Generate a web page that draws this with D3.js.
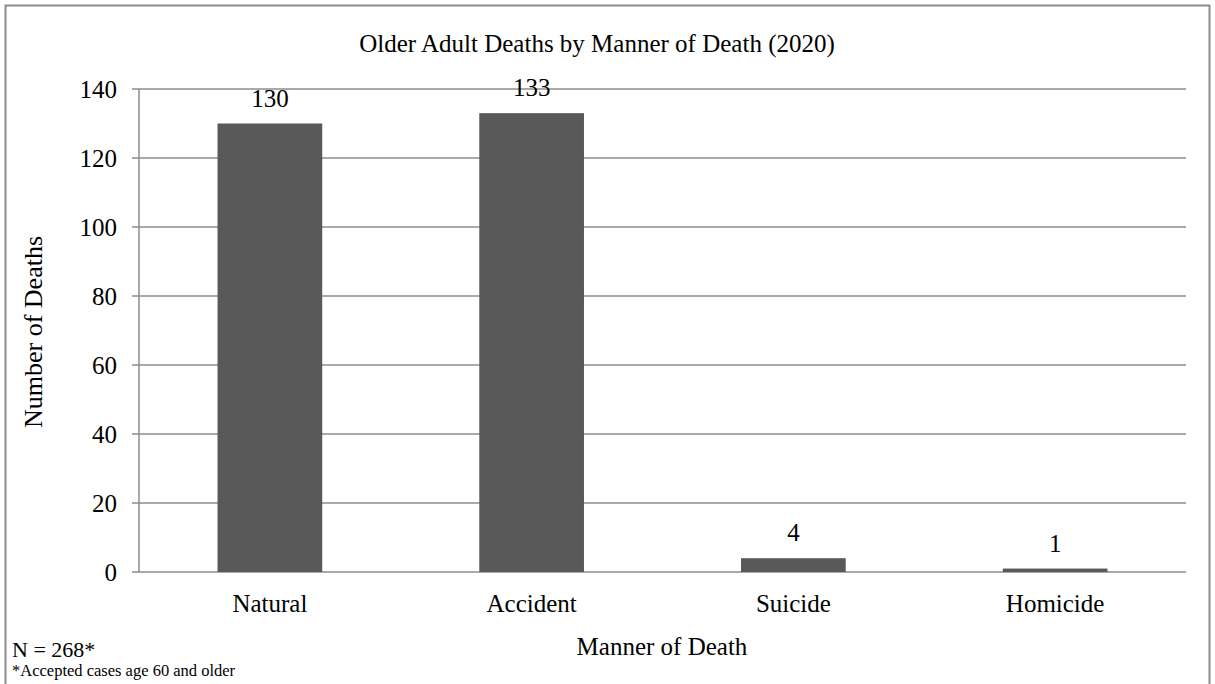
<!DOCTYPE html>
<html lang="en">
<head>
    <meta charset="UTF-8">
    <title>Older Adult Deaths by Manner of Death (2020)</title>
    <script src="https://cdn.jsdelivr.net/npm/d3@7/dist/d3.min.js"></script>
    <style>
        body { margin: 0; background: #fff; }
        text { font-family: "Liberation Serif", "Times New Roman", serif; fill: #000; }
    </style>
</head>
<body>
<script>
    // data
    var categories = ["Natural", "Accident", "Suicide", "Homicide"];
    var deaths = [130, 133, 4, 1];
    var yTicks = [0, 20, 40, 60, 80, 100, 120, 140];

    var width = 1215, height = 684;
    var svg = d3.select("body").append("svg")
        .attr("width", width)
        .attr("height", height);

    // chart border
    svg.append("rect")
        .attr("x", 5.5).attr("y", 5.5)
        .attr("width", 1204).attr("height", 700)
        .attr("fill", "white")
        .attr("stroke", "#8c8c8c")
        .attr("stroke-width", 2);

    // plot area (名字别用 top，会撞 window.top)
    var plotLeft = 139, plotRight = 1186, plotTop = 89, plotBottom = 572;

    var x = d3.scaleBand()
        .domain(categories)
        .range([plotLeft, plotRight])
        .paddingInner(0.6)
        .paddingOuter(0.3);

    var y = d3.scaleLinear()
        .domain([0, 140])
        .range([plotBottom, plotTop]);

    // gridlines
    svg.append("g")
        .selectAll("line")
        .data(yTicks)
        .enter()
        .append("line")
        .attr("x1", plotLeft - 7)
        .attr("x2", plotRight)
        .attr("y1", function (d) { return y(d); })
        .attr("y2", function (d) { return y(d); })
        .attr("stroke", "#8c8c8c")
        .attr("stroke-width", 1.5);

    // y axis line
    svg.append("line")
        .attr("x1", plotLeft).attr("x2", plotLeft)
        .attr("y1", plotTop).attr("y2", plotBottom)
        .attr("stroke", "#8c8c8c")
        .attr("stroke-width", 1.5);

    // y tick labels
    svg.append("g")
        .selectAll("text")
        .data(yTicks)
        .enter()
        .append("text")
        .attr("x", plotLeft - 22)
        .attr("y", function (d) { return y(d); })
        .attr("dy", "0.35em")
        .attr("text-anchor", "end")
        .style("font-size", "25px")
        .text(function (d) { return d; });

    // bars
    svg.append("g")
        .selectAll("rect")
        .data(deaths)
        .enter()
        .append("rect")
        .attr("x", function (d, i) { return x(categories[i]); })
        .attr("y", function (d) { return y(d); })
        .attr("width", x.bandwidth())
        .attr("height", function (d) { return plotBottom - y(d); })
        .attr("fill", "#595959");

    // value labels
    svg.append("g")
        .selectAll("text")
        .data(deaths)
        .enter()
        .append("text")
        .attr("x", function (d, i) { return x(categories[i]) + x.bandwidth() / 2; })
        .attr("y", function (d) { return y(d) - 17; })
        .attr("text-anchor", "middle")
        .style("font-size", "25px")
        .text(function (d) { return d; });

    // category labels
    svg.append("g")
        .selectAll("text")
        .data(categories)
        .enter()
        .append("text")
        .attr("x", function (d) { return x(d) + x.bandwidth() / 2; })
        .attr("y", 612)
        .attr("text-anchor", "middle")
        .style("font-size", "25px")
        .text(function (d) { return d; });

    // title
    svg.append("text")
        .attr("x", 597).attr("y", 52)
        .attr("text-anchor", "middle")
        .style("font-size", "25px")
        .text("Older Adult Deaths by Manner of Death (2020)");

    // axis titles
    svg.append("text")
        .attr("x", 662).attr("y", 655)
        .attr("text-anchor", "middle")
        .style("font-size", "25px")
        .text("Manner of Death");

    svg.append("text")
        .attr("transform", "translate(42,332) rotate(-90)")
        .attr("text-anchor", "middle")
        .style("font-size", "26px")
        .text("Number of Deaths");

    // notes
    svg.append("text")
        .attr("x", 12).attr("y", 657)
        .style("font-size", "22px")
        .text("N = 268*");

    svg.append("text")
        .attr("x", 12).attr("y", 676)
        .style("font-size", "16.5px")
        .text("*Accepted cases age 60 and older");
</script>
</body>
</html>
